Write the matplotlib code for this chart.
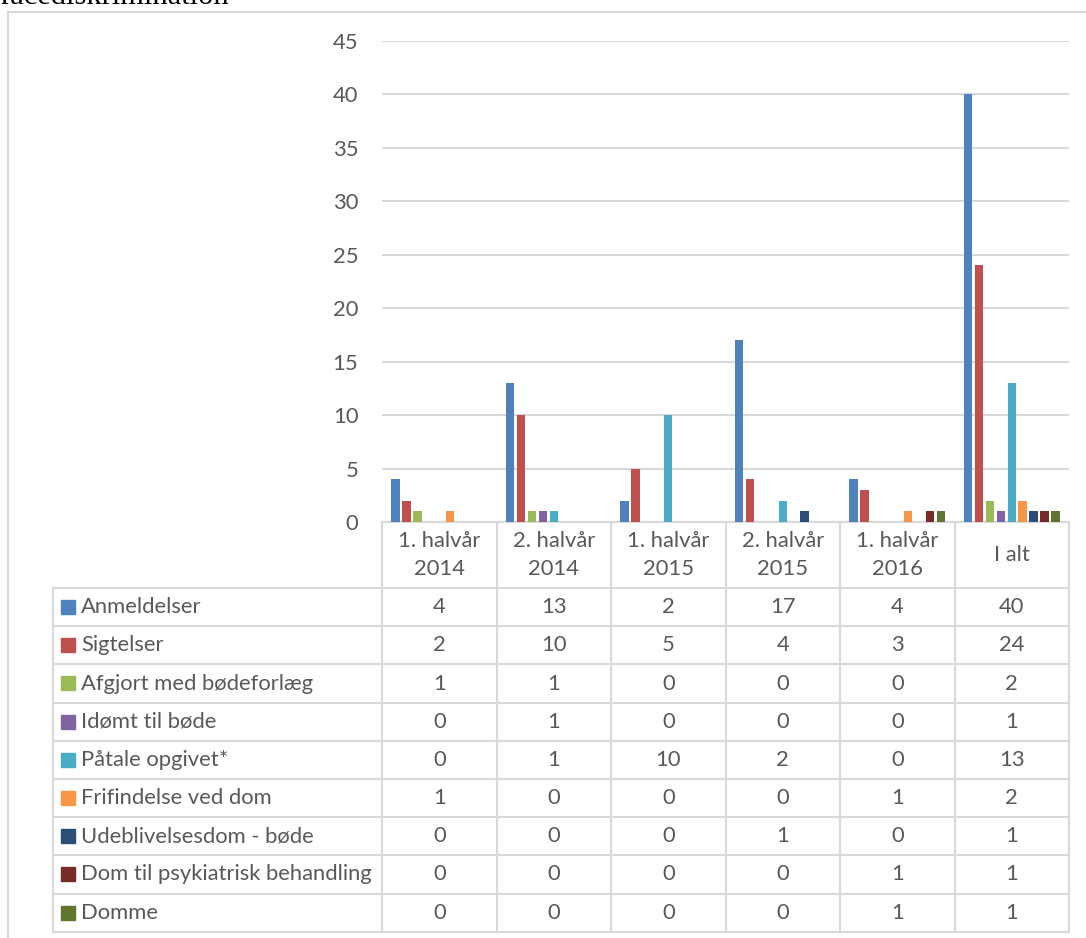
import numpy as np
import matplotlib.pyplot as plt
from matplotlib.patches import Rectangle

# Data
categories = ['1. halvår\n2014', '2. halvår\n2014', '1. halvår\n2015',
              '2. halvår\n2015', '1. halvår\n2016', 'I alt']
series = ['Anmeldelser', 'Sigtelser', 'Afgjort med bødeforlæg', 'Idømt til bøde',
          'Påtale opgivet*', 'Frifindelse ved dom', 'Udeblivelsesdom - bøde',
          'Dom til psykiatrisk behandling', 'Domme']
anmeldelser = [4, 13, 2, 17, 4, 40]
sigtelser = [2, 10, 5, 4, 3, 24]
boedeforlaeg = [1, 1, 0, 0, 0, 2]
idoemt_boede = [0, 1, 0, 0, 0, 1]
paatale_opgivet = [0, 1, 10, 2, 0, 13]
frifindelse = [1, 0, 0, 0, 1, 2]
udeblivelse = [0, 0, 0, 1, 0, 1]
psykiatrisk = [0, 0, 0, 0, 1, 1]
domme = [0, 0, 0, 0, 1, 1]
values = [anmeldelser, sigtelser, boedeforlaeg, idoemt_boede, paatale_opgivet,
          frifindelse, udeblivelse, psykiatrisk, domme]
colors = ['#4F81BD', '#C0504D', '#9BBB59', '#8064A2', '#4BACC6',
          '#F79646', '#2C4D75', '#772C2A', '#5F7530']

plt.rcParams['font.family'] = ['Lato', 'DejaVu Sans']
txt = '#595959'
grid = '#D9D9D9'
fs = 15.8
W, H = 1086, 938
fig = plt.figure(figsize=(W / 100, H / 100), dpi=100)

# background axes in pixel coordinates for frame, table and title
bg = fig.add_axes([0, 0, 1, 1])
bg.set_xlim(0, W)
bg.set_ylim(H, 0)
bg.axis('off')

bg.text(0, 4, 'racediskrimination', family='Liberation Serif', fontsize=22,
        va='baseline', ha='left', color='black')
bg.plot([8, W + 5], [12, 12], color=grid, lw=1.5)
bg.plot([8, 8], [12, H + 5], color=grid, lw=1.5)

# bar chart axes
x0, x1, y0, y1 = 382, 1069, 522, 41
ax = fig.add_axes([x0 / W, 1 - y0 / H, (x1 - x0) / W, (y0 - y1) / H])
n = len(series)
pitch = 0.0957
bw = 0.074
xs = np.arange(len(categories)) + 0.5
for i, (vals, c) in enumerate(zip(values, colors)):
    ax.bar(xs + (i - (n - 1) / 2) * pitch, vals, width=bw, color=c, zorder=3)
ax.set_xlim(0, len(categories))
ax.set_ylim(0, 45)
ax.set_yticks(range(0, 46, 5))
ax.yaxis.grid(True, color=grid, lw=1.5, zorder=0)
ax.tick_params(axis='y', length=0, pad=17, labelsize=fs, labelcolor=txt)
ax.set_xticks([])
for s in ax.spines.values():
    s.set_visible(False)
ax.patch.set_alpha(0)

# data table
col_edges = [382 + k * (1069 - 382) / len(categories) for k in range(len(categories) + 1)]
left = 53
hdr_top, row_top, row_h = 522, 588, 38.2
n_rows = len(series)
bottom = row_top + n_rows * row_h

bg.plot([col_edges[0], col_edges[-1]], [hdr_top, hdr_top], color=grid, lw=1.5)
for xe in col_edges:
    bg.plot([xe, xe], [hdr_top, bottom], color=grid, lw=1.5)
bg.plot([left, left], [row_top, bottom], color=grid, lw=1.5)
for r in range(n_rows + 1):
    y = row_top + r * row_h
    bg.plot([left, col_edges[-1]], [y, y], color=grid, lw=1.5)

for k, cat in enumerate(categories):
    cx = (col_edges[k] + col_edges[k + 1]) / 2
    bg.text(cx, (hdr_top + row_top) / 2, cat, ha='center', va='center',
            fontsize=fs, color=txt, linespacing=1.45)

for r, (name, vals, c) in enumerate(zip(series, values, colors)):
    cy = row_top + (r + 0.5) * row_h
    bg.add_patch(Rectangle((61, cy - 7), 14, 14, color=c))
    bg.text(81, cy, name, ha='left', va='center', fontsize=fs, color=txt)
    for k, v in enumerate(vals):
        cx = (col_edges[k] + col_edges[k + 1]) / 2
        bg.text(cx, cy, str(v), ha='center', va='center', fontsize=fs, color=txt)

fig.savefig('out.png', dpi=100)
